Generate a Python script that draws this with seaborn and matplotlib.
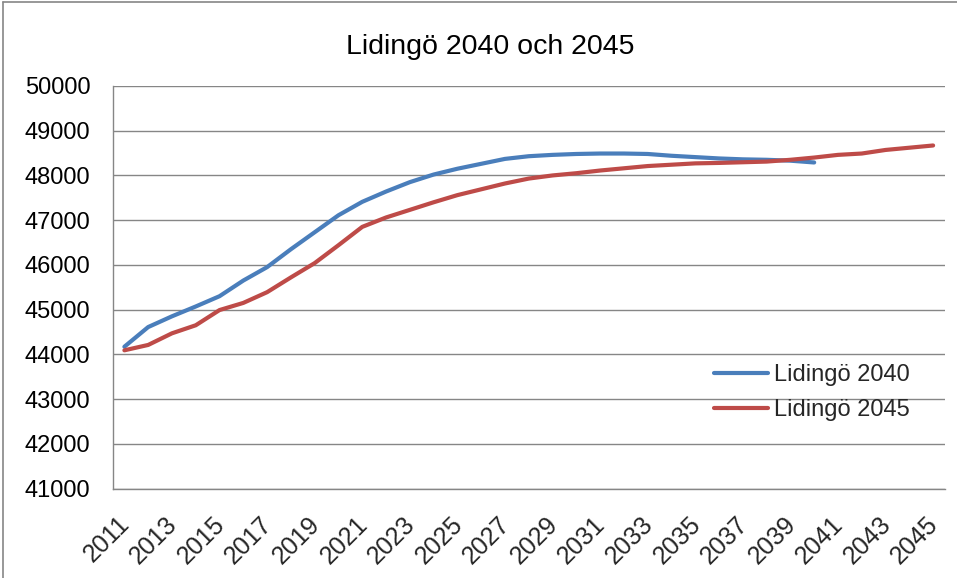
import matplotlib
matplotlib.use("Agg")
import matplotlib.pyplot as plt
import matplotlib.transforms as mtransforms
import seaborn as sns
import pandas as pd
import numpy as np
from matplotlib.lines import Line2D

years = list(range(2011, 2046))
tick_labels = [str(y) for y in range(2011, 2046, 2)]
y_ticks = [41000, 42000, 43000, 44000, 45000, 46000, 47000, 48000, 49000, 50000]

lidingo_2040 = [44170, 44610, 44850, 45070, 45300, 45650, 45950, 46350, 46730, 47110,
                47410, 47640, 47850, 48020, 48150, 48260, 48370, 48430, 48460, 48480,
                48490, 48490, 48480, 48440, 48410, 48380, 48360, 48350, 48330, 48290]
lidingo_2045 = [44090, 44210, 44470, 44650, 44990, 45150, 45390, 45720, 46040, 46440,
                46850, 47060, 47230, 47400, 47560, 47690, 47820, 47930, 48000, 48050,
                48110, 48160, 48210, 48240, 48270, 48280, 48295, 48310, 48350, 48400,
                48460, 48490, 48570, 48620, 48670]

series_names = ["Lidingö 2040", "Lidingö 2045"]
colors = {"Lidingö 2040": "#4A7EBB", "Lidingö 2045": "#BE4B48"}

rows = []
for i, v in enumerate(lidingo_2040):
    rows.append({"pos": i, "year": years[i], "value": v, "series": series_names[0]})
for i, v in enumerate(lidingo_2045):
    rows.append({"pos": i, "year": years[i], "value": v, "series": series_names[1]})
df = pd.DataFrame(rows)

sns.set_style("white")
plt.rcParams['font.family'] = ['Liberation Sans', 'DejaVu Sans']

fig = plt.figure(figsize=(9.57, 5.78), dpi=100)
ax = fig.add_axes([112.5/957, 1 - 488.5/578, (945-112.5)/957, (488.5-86)/578])

sns.lineplot(data=df, x="pos", y="value", hue="series", palette=colors,
             linewidth=3.0, ax=ax, legend=False, sort=True)

ax.set_xlim(-0.5, len(years) - 0.5)
ax.set_ylim(41000, 50000)
ax.set_yticks(y_ticks)
ax.set_yticklabels([str(t) for t in y_ticks], fontsize=17, color="#000000")
ax.yaxis.grid(True, color="#868686", linewidth=1.0)
ax.set_axisbelow(True)

label_pos = [years.index(int(t)) for t in tick_labels]
ax.set_xticks(label_pos)
ax.set_xticklabels(tick_labels, fontsize=18, rotation=45, ha="right",
                   va="center", rotation_mode="anchor")
ax.set_xticks(np.arange(-0.5, len(years), 1.0), minor=True)
ax.tick_params(axis="x", which="major", length=0, pad=23)
ax.tick_params(axis="x", which="minor", length=6.5, width=1, color="#868686", direction="out")
ax.tick_params(axis="y", which="major", length=5, width=1, color="#868686", direction="out", pad=11)
offset = mtransforms.ScaledTranslation(1.5/100, 0, fig.dpi_scale_trans)
for lbl in ax.get_xticklabels():
    lbl.set_transform(lbl.get_transform() + offset)

ax.set_xlabel("")
ax.set_ylabel("")
for s in ["top", "right"]:
    ax.spines[s].set_visible(False)
for s in ["left", "bottom"]:
    ax.spines[s].set_color("#868686")
    ax.spines[s].set_linewidth(1.0)

handles = [Line2D([0], [0], color=colors[n], linewidth=3.0) for n in series_names]
ax.legend(handles, series_names, loc="center left", bbox_to_anchor=(0.7227, 0.2385),
          frameon=False, fontsize=17, handlelength=2.3, handletextpad=0.22,
          labelspacing=0.55, borderpad=0, borderaxespad=0)

fig.text(490/957, 1 - 47/578, "Lidingö 2040 och 2045", ha="center", va="center",
         fontsize=20.5, color="#000000")

fig.add_artist(Line2D([3/957, 3/957], [0, 1 - 2/578], color="#868686", linewidth=1.2,
                      transform=fig.transFigure))
fig.add_artist(Line2D([3/957, 1], [1 - 2/578, 1 - 2/578], color="#868686", linewidth=1.2,
                      transform=fig.transFigure))

fig.savefig("out.png", dpi=100)
